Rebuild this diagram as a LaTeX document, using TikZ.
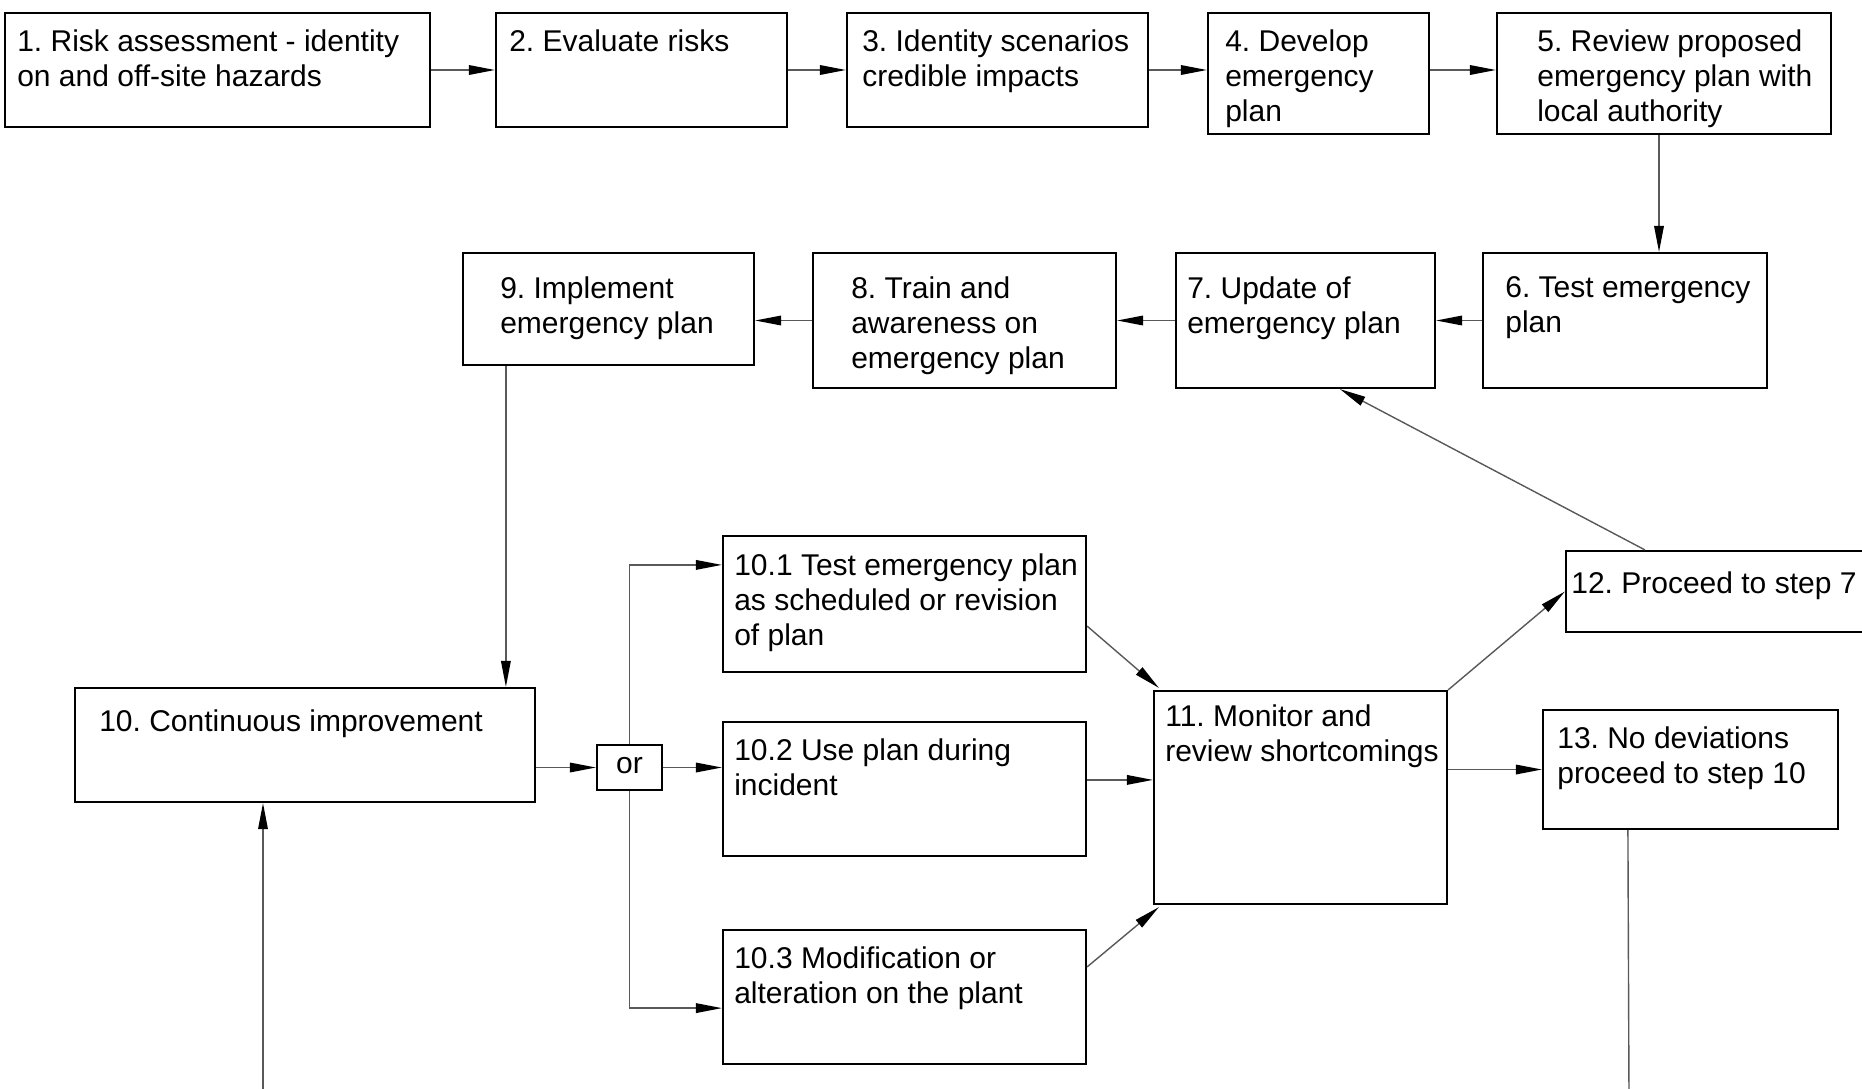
\documentclass[tikz,border=0pt]{standalone}
\usepackage{fontspec}
\setmainfont{Liberation Sans}
\usetikzlibrary{arrows.meta,calc,fit}
\frenchspacing
\begin{document}
\begin{tikzpicture}[x=0.5pt,y=-0.5pt,
  box/.style={draw=black, line width=1.1pt, inner sep=0pt},
  txt/.style={anchor=north west, inner sep=0pt, align=left, font=\fontsize{15}{17.6}\selectfont},
  conn/.style={draw=black!65, line width=0.7pt, -{Triangle[length=13pt,width=4.8pt,color=black]}},
  plainline/.style={draw=black!65, line width=0.7pt}]
\useasboundingbox (0,0) rectangle (1862,1088);
\fill[white] (0,0) rectangle (1862,1088);

% boxes
\node[box, fit={(5,13) (430,127)}] (n1) {};
\node[box, fit={(496,13) (787,127)}] (n2) {};
\node[box, fit={(847,13) (1148,127)}] (n3) {};
\node[box, fit={(1208,13) (1429,134)}] (n4) {};
\node[box, fit={(1497,13) (1831,134)}] (n5) {};
\node[box, fit={(1483,253) (1767,388)}] (n6) {};
\node[box, fit={(1176,253) (1435,388)}] (n7) {};
\node[box, fit={(813,253) (1116,388)}] (n8) {};
\node[box, fit={(463,253) (754,365)}] (n9) {};
\node[box, fit={(75,688) (535,802)}] (n10) {};
\node[box, fit={(597,745) (662,790)}] (nor) {};
\node[box, fit={(723,536) (1086,672)}] (n101) {};
\node[box, fit={(723,722) (1086,856)}] (n102) {};
\node[box, fit={(723,930) (1086,1064)}] (n103) {};
\node[box, fit={(1154,691) (1447,904)}] (n11) {};
\node[box, fit={(1566,551) (1885,632)}] (n12) {};
\node[box, fit={(1543,710) (1838,829)}] (n13) {};

% texts
\node[txt] (t1) at ($(n1.north west)+(13,17)$) {1. Risk assessment - identity\\on and off-site hazards};
\node[txt] (t2) at ($(n2.north west)+(14,17)$) {2. Evaluate risks};
\node[txt] (t3) at ($(n3.north west)+(16,17)$) {3. Identity scenarios\\credible impacts};
\node[txt] (t4) at ($(n4.north west)+(18,17)$) {4. Develop\\emergency\\plan};
\node[txt] (t5) at ($(n5.north west)+(41,17)$) {5. Review proposed\\emergency plan with\\local authority};
\node[txt] (t6) at ($(n6.north west)+(23,24)$) {6. Test emergency\\plan};
\node[txt] (t7) at ($(n7.north west)+(12,24)$) {7. Update of\\emergency plan};
\node[txt] (t8) at ($(n8.north west)+(39,24)$) {8. Train and\\awareness on\\emergency plan};
\node[txt] (t9) at ($(n9.north west)+(38,24)$) {9. Implement\\emergency plan};
\node[txt] (t10) at ($(n10.north west)+(25,22)$) {10. Continuous improvement};
\node[inner sep=0pt, font=\fontsize{15}{17.6}\selectfont] (tor) at ($(nor.center)+(0,-2)$) {or};
\node[txt] (t101) at ($(n101.north west)+(12,18)$) {10.1 Test emergency plan\\as scheduled or revision\\of plan};
\node[txt] (t102) at ($(n102.north west)+(12,17)$) {10.2 Use plan during\\incident};
\node[txt] (t103) at ($(n103.north west)+(12,17)$) {10.3 Modification or\\alteration on the plant};
\node[txt] (t11) at ($(n11.north west)+(12,14)$) {11. Monitor and\\review shortcomings};
\node[txt] (t12) at ($(n12.north west)+(6,21)$) {12. Proceed to step 7};
\node[txt] (t13) at ($(n13.north west)+(15,17)$) {13. No deviations\\proceed to step 10};

% connectors, top row
\draw[conn] (n1.east) -- (n2.west);
\draw[conn] (n2.east) -- (n3.west);
\draw[conn] (n3.east) -- (n3.east -| n4.west);
\draw[conn] (n3.east -| n4.east) -- (n3.east -| n5.west);
\coordinate (c56) at ($(n5.south)+(-5,0)$);
\draw[conn] (c56) -- (c56 |- n6.north);
% second row
\draw[conn] (n6.west) -- (n7.east);
\draw[conn] (n7.west) -- (n8.east);
\draw[conn] (n8.west) -- (n8.west -| n9.east);
\coordinate (c9) at ($(n9.south west)+(44,0)$);
\draw[conn] (c9) -- (c9 |- n10.north);
% or branch
\draw[conn] (n10.east |- nor.west) -- (nor.west);
\draw[conn] (nor.east) -- (nor.east -| n102.west);
\coordinate (c101) at ($(n101.north west)+(0,30)$);
\coordinate (c103) at ($(n103.south west)+(0,-57)$);
\draw[conn] (nor.north) -- (nor.north |- c101) -- (c101);
\draw[conn] (nor.south) -- (nor.south |- c103) -- (c103);
% into 11
\coordinate (s101) at ($(n101.south east)+(0,-47)$);
\draw[conn] (s101) -- ($(n11.north west)+(6,-2)$);
\coordinate (s102) at ($(n102.north east)+(0,59)$);
\draw[conn] (s102) -- (s102 -| n11.west);
\coordinate (s103) at ($(n103.north east)+(0,38)$);
\draw[conn] (s103) -- ($(n11.south west)+(6,2)$);
% out of 11
\draw[conn] (n11.north east) -- (n12.west);
\draw[conn] (n13.west -| n11.east) -- (n13.west);
\coordinate (s12) at ($(n12.north west)+(80,0)$);
\draw[conn] (s12) -- ($(n7.south west)+(165,0)$);
% loose ends at the bottom
\coordinate (s13) at ($(n13.south west)+(86,0)$);
\coordinate (e13) at (1629,1100);
\draw[plainline] (s13) -- (e13);
\coordinate (e10) at (263,1100);
\draw[conn] (e10) -- (e10 |- n10.south);
\end{tikzpicture}
\end{document}
